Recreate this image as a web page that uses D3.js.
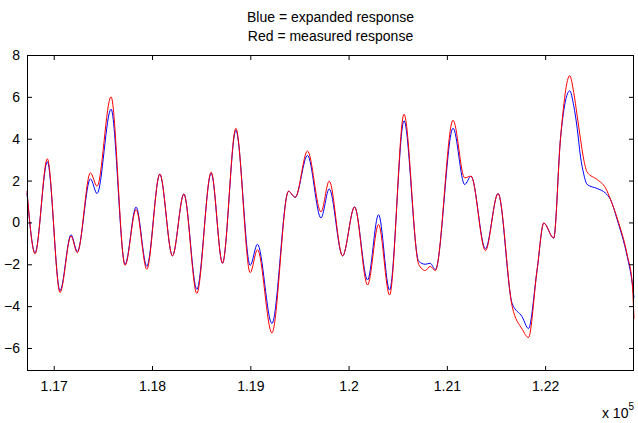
<!DOCTYPE html>
<html>
<head>
<meta charset="utf-8">
<script src="https://cdn.jsdelivr.net/npm/d3@7"></script>
<style>
  body { margin: 0; background: #fff; }
  svg { display: block; font-family: "Liberation Sans", Arial, sans-serif; }
</style>
</head>
<body>
<div id="chart"></div>
<script>
// sample positions (x, in raw units)
const sampleX = [116728, 116810, 116935, 117064, 117176, 117240, 117373, 117441, 117583, 117726,
    117838, 117947, 118079, 118208, 118324, 118456, 118602, 118717, 118853, 118999,
    119073, 119220, 119389, 119457, 119582, 119719, 119803, 119939, 120061, 120193,
    120305, 120417, 120564, 120713, 120781, 120830, 120883, 121063, 121181, 121246,
    121392, 121521, 121664, 121766, 121830, 121918, 121986, 122087, 122156, 122250,
    122291, 122326, 122359, 122393, 122428, 122529, 122614, 122665, 122733, 122835,
    122886, 122904];
// expanded response (blue)
const expanded = [1.4, -1.45, 2.9, -3.26, -0.59, -1.39, 2.08, 1.38, 5.41, -2.0,
    0.74, -2.1, 2.3, -1.6, 1.36, -3.2, 2.35, -1.95, 4.4, -2.05,
    -1.04, -4.83, 1.49, 1.2, 3.2, 0.21, 1.6, -1.6, 0.74, -2.75,
    0.37, -3.23, 4.86, -1.85, -2.0, -1.95, -2.25, 4.5, 1.81, 2.21,
    -1.26, 1.38, -3.87, -4.51, -5.07, -2.27, -0.03, -0.75, 4.0, 6.29,
    5.57, 4.5, 3.17, 2.3, 1.81, 1.62, 1.4, 1.09, 0.13, -1.63,
    -2.9, -3.6];
// measured response (red)
const measured = [1.5, -1.5, 3.04, -3.35, -0.65, -1.45, 2.37, 1.73, 6.0, -2.05,
    0.62, -2.24, 2.32, -1.6, 1.36, -3.39, 2.4, -1.95, 4.5, -2.4,
    -1.3, -5.28, 1.49, 1.2, 3.41, 0.5, 1.97, -1.6, 0.74, -2.99,
    -0.1, -3.47, 5.17, -2.0, -2.3, -2.1, -2.3, 4.88, 2.13, 2.21,
    -1.35, 1.38, -4.0, -5.1, -5.5, -2.27, -0.03, -0.75, 4.0, 7.01,
    6.2, 5.09, 4.0, 3.0, 2.4, 2.05, 1.65, 1.1, 0.2, -1.55,
    -2.9, -4.6];
const xTicks = [117000, 118000, 119000, 120000, 121000, 122000];
const xTickLabels = ["1.17", "1.18", "1.19", "1.2", "1.21", "1.22"];
const yTicks = [-6, -4, -2, 0, 2, 4, 6, 8];
const titleLines = ["Blue = expanded response", "Red = measured response"];

const width = 638, height = 423;
const margin = { top: 55, right: 4, bottom: 52, left: 27 };

const svg = d3.select("#chart").append("svg")
    .attr("width", width)
    .attr("height", height);

const x = d3.scaleLinear().domain([116728, 122904]).range([margin.left, width - margin.right]);
const y = d3.scaleLinear().domain([-7.1, 8]).range([height - margin.bottom, margin.top]);

const line = d3.line()
    .x((d, i) => x(sampleX[i]))
    .y(d => y(d))
    .curve(d3.curveMonotoneX);

svg.append("path")
    .attr("d", line(expanded))
    .attr("fill", "none")
    .attr("stroke", "#0000ff")
    .attr("stroke-width", 1);

svg.append("path")
    .attr("d", line(measured))
    .attr("fill", "none")
    .attr("stroke", "#ff0000")
    .attr("stroke-width", 1);

// box axes, ticks pointing inward, matlab style
const axisStyle = g => {
    g.select(".domain").remove();
    g.selectAll("line").attr("stroke", "#000");
    g.selectAll("text").attr("font-size", 14).attr("fill", "#000");
};

svg.append("g")
    .attr("transform", `translate(0,${y.range()[0]})`)
    .call(d3.axisBottom(x).tickValues(xTicks).tickFormat((d, i) => xTickLabels[i]).tickSizeInner(-5).tickPadding(10))
    .call(axisStyle);

svg.append("g")
    .attr("transform", `translate(0,${y.range()[1]})`)
    .call(d3.axisTop(x).tickValues(xTicks).tickFormat("").tickSizeInner(-5))
    .call(axisStyle);

svg.append("g")
    .attr("transform", `translate(${x.range()[0]},0)`)
    .call(d3.axisLeft(y).tickValues(yTicks).tickFormat(d3.format("d")).tickSizeInner(-5).tickPadding(7))
    .call(axisStyle);

svg.append("g")
    .attr("transform", `translate(${x.range()[1]},0)`)
    .call(d3.axisRight(y).tickValues(yTicks).tickFormat("").tickSizeInner(-5))
    .call(axisStyle);

svg.append("rect")
    .attr("x", x.range()[0] + 0.5)
    .attr("y", y.range()[1] + 0.5)
    .attr("width", x.range()[1] - x.range()[0] - 1)
    .attr("height", y.range()[0] - y.range()[1] - 1)
    .attr("fill", "none")
    .attr("stroke", "#000")
    .attr("stroke-width", 1);

// title
svg.selectAll(".title")
    .data(titleLines)
    .enter()
    .append("text")
    .attr("class", "title")
    .attr("x", (x.range()[0] + x.range()[1]) / 2)
    .attr("y", (d, i) => 22 + i * 19)
    .attr("text-anchor", "middle")
    .attr("font-size", 14)
    .text(d => d);

// exponent label
const expo = svg.append("text")
    .attr("x", 634)
    .attr("y", 418)
    .attr("text-anchor", "end")
    .attr("font-size", 14);
expo.append("tspan").text("x 10");
expo.append("tspan").attr("dy", -8).attr("font-size", 10).text("5");
</script>
</body>
</html>
